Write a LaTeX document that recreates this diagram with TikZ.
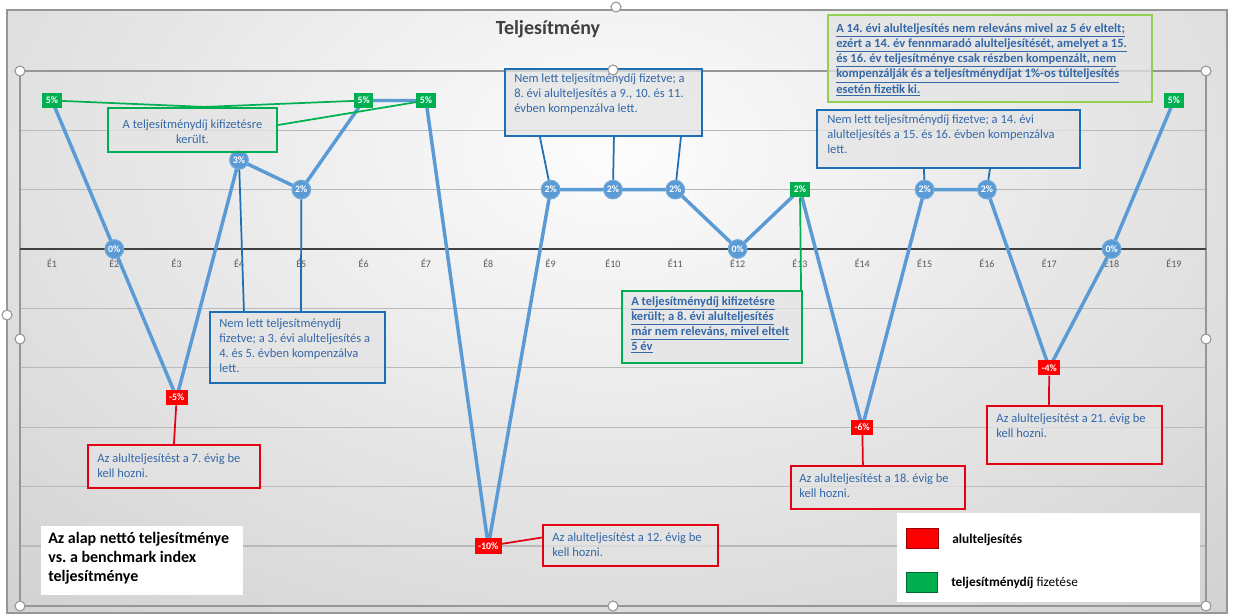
\documentclass[tikz,border=0pt]{standalone}
\usepackage{fontspec}
\setmainfont{Carlito}
\frenchspacing
\usetikzlibrary{fit,calc}
\definecolor{serblue}{RGB}{91,155,213}
\definecolor{boxblue}{RGB}{30,110,180}
\definecolor{txtblue}{RGB}{52,104,168}
\definecolor{mgreen}{RGB}{0,176,80}
\definecolor{lgreen}{RGB}{146,208,80}
\definecolor{mred}{RGB}{255,0,0}
\definecolor{bred}{RGB}{228,0,20}
\definecolor{cfill}{RGB}{228,228,228}
\definecolor{gridc}{RGB}{185,185,185}
\definecolor{axisc}{RGB}{64,64,64}
\definecolor{labc}{RGB}{89,89,89}
\definecolor{framec}{RGB}{150,150,150}
\newcommand{\ltab}[1]{\begin{tabular}[t]{@{}l@{}}#1\end{tabular}}
\newcommand{\ctab}[1]{\begin{tabular}[t]{@{}c@{}}#1\end{tabular}}
\begin{document}
\begin{tikzpicture}[x=0.75pt,y=-0.75pt,
  cbox/.style={inner sep=0pt, fill=cfill, fill opacity=0.75, line width=1.6pt},
  ctext/.style={anchor=base west, inner sep=0pt, text=txtblue, font=\fontsize{9.4}{11.3}\selectfont},
  btext/.style={ctext, font=\fontsize{9.4}{11.3}\selectfont\bfseries},
  circm/.style={circle, fill=serblue, draw=serblue!85!white, line width=0.8pt, inner sep=0pt, minimum size=14pt, text=white, font=\fontsize{7.4}{7.4}\selectfont\bfseries},
  sqm/.style={rectangle, inner xsep=2.6pt, inner ysep=0pt, minimum height=11.5pt, minimum width=14pt, text=white, font=\fontsize{7.4}{7.4}\selectfont\bfseries},
  sqg/.style={sqm, fill=mgreen},
  sqr/.style={sqm, fill=mred},
  series/.style={serblue, line width=2.6pt, line join=round},
  gline/.style={mgreen, line width=1.3pt},
  bline/.style={boxblue, line width=1.3pt},
  rline/.style={bred, line width=1.3pt},
  catl/.style={text=labc, font=\fontsize{7.5}{8}\selectfont, inner sep=0pt},
  handle/.style={circle, fill=white, draw=framec, line width=0.8pt, minimum size=7.5pt, inner sep=0pt},
  gridl/.style={gridc, line width=0.8pt}
]
\useasboundingbox (0,0) rectangle (1233,614);
% chart background
\begin{scope}
\clip (7,10) rectangle (1227,613);
\shade[inner color=gray!2, outer color=gray!46] (-600,-650) rectangle (1830,950);
\end{scope}
\draw[framec, line width=0.8pt] (7,10) rectangle (1227,613);
% gridlines
\foreach \v in {4,2,-2,-4,-6,-8,-10}
  \draw[gridl] (20,{249-29.7*\v}) -- (1206,{249-29.7*\v});
\draw[framec, line width=0.8pt] (20,71) rectangle (1206,606);
\draw[axisc, line width=1.8pt] (20,249) -- (1206,249);
% category labels
\foreach \i in {1,...,19}
  \node[catl] (l\i) at ({52+(\i-1)*62.33},263) {É\i};
% title
\node[anchor=base, inner sep=0pt, text=axisc, font=\fontsize{15}{18}\selectfont\bfseries] (title) at (548,34) {Teljesítmény};
% data points
\foreach \v [count=\i] in {5,0,-5,3,2,5,5,-10,2,2,2,0,2,-6,2,2,-4,0,5}
  \coordinate (p\i) at ({52+(\i-1)*62.33},{249-29.7*\v});
\draw[series] (p1) \foreach \i in {2,...,19} { -- (p\i) };
% markers
\node[sqg]   (m1)  at (p1)  {5\%};
\node[circm] (m2)  at (p2)  {0\%};
\node[sqr]   (m3)  at (p3)  {-5\%};
\node[circm] (m4)  at (p4)  {3\%};
\node[circm] (m5)  at (p5)  {2\%};
\node[sqg]   (m6)  at (p6)  {5\%};
\node[sqg]   (m7)  at (p7)  {5\%};
\node[sqr]   (m8)  at (p8)  {-10\%};
\node[circm] (m9)  at (p9)  {2\%};
\node[circm] (m10) at (p10) {2\%};
\node[circm] (m11) at (p11) {2\%};
\node[circm] (m12) at (p12) {0\%};
\node[sqg]   (m13) at (p13) {2\%};
\node[sqr]   (m14) at (p14) {-6\%};
\node[circm] (m15) at (p15) {2\%};
\node[circm] (m16) at (p16) {2\%};
\node[sqr]   (m17) at (p17) {-4\%};
\node[circm] (m18) at (p18) {0\%};
\node[sqg]   (m19) at (p19) {5\%};
% callout boxes
\node[cbox, draw=mgreen,  fit={(108,108) (277,152)}] (c1) {};
\node[cbox, draw=boxblue, fit={(505,69) (702,136)}]  (c2) {};
\node[cbox, draw=boxblue, fit={(817,110) (1080,168)}] (c3) {};
\node[cbox, draw=lgreen,  fit={(828,15) (1152,102)}] (c4) {};
\node[cbox, draw=boxblue, fit={(210,312) (385,383)}] (c5) {};
\node[cbox, draw=bred,    fit={(88,445) (260,488)}]  (c6) {};
\node[fill=white, inner sep=0pt, fit={(41,526) (243,595)}] (c7) {};
\node[cbox, draw=mgreen,  fit={(622,291) (802,363)}] (c8) {};
\node[cbox, draw=bred,    fit={(543,525) (718,566)}] (c9) {};
\node[cbox, draw=bred,    fit={(791,466) (965,509)}] (c10) {};
\node[cbox, draw=bred,    fit={(987,406) (1162,464)}] (c11) {};
% connectors
\draw[gline] (m1) -- ([shift={(12,0)}]c1.north) -- (m6);
\draw[gline] ([shift={(0,-5)}]c1.east) -- (m7);
\draw[bline] ([shift={(36,0)}]c2.south west) -- (m9);
\draw[bline] ([shift={(110,0)}]c2.south west) -- (m10);
\draw[bline] ([shift={(177,0)}]c2.south west) -- (m11);
\draw[bline] ([shift={(108,0)}]c3.south west) -- (m15);
\draw[bline] ([shift={(174,0)}]c3.south west) -- (m16);
\draw[bline] ([shift={(35,0)}]c5.north west) -- (m4);
\draw[bline] ([shift={(92,0)}]c5.north west) -- (m5);
\draw[rline] ([shift={(87,0)}]c6.north west) -- (m3);
\draw[gline] ([shift={(-2,0)}]c8.north east) -- (m13);
\draw[rline] ([shift={(0,-8)}]c9.west) -- (m8);
\draw[rline] ([shift={(73,0)}]c10.north west) -- (m14);
\draw[rline] ([shift={(63,0)}]c11.north west) -- (m17);
% texts
\node[ctext, anchor=base] (t1) at (192.5,128) {\ctab{A teljesítménydíj kifizetésre\\került.}};
\node[ctext] (t2) at (514,82) {\ltab{Nem lett teljesítménydíj fizetve; a\\8. évi alulteljesítés a 9., 10. és 11.\\évben kompenzálva lett.}};
\node[ctext] (t3) at (827,123) {\ltab{Nem lett teljesítménydíj fizetve; a 14. évi\\alulteljesítés a 15. és 16. évben kompenzálva\\lett.}};
\node[btext] (t4) at (836,32) {\ltab{\underline{A 14. évi alulteljesítés nem releváns mivel az 5 év eltelt;}\\\underline{ezért a 14. év fennmaradó alulteljesítését, amelyet a 15.}\\\underline{és 16. év teljesítménye csak részben kompenzált, nem}\\\underline{kompenzálják és a teljesítménydíjat 1\%-os túlteljesítés}\\\underline{esetén fizetik ki.}}};
\node[ctext] (t5) at (219,327) {\ltab{Nem lett teljesítménydíj\\fizetve; a 3. évi alulteljesítés a\\4. és 5. évben kompenzálva\\lett.}};
\node[ctext] (t6) at (97,462) {\ltab{Az alulteljesítést a 7. évig be\\kell hozni.}};
\node[ctext, text=black, font=\fontsize{12}{14.6}\selectfont\bfseries] (t7) at (48,543) {\ltab{Az alap nettó teljesítménye\\vs. a benchmark index\\teljesítménye}};
\node[btext] (t8) at (631,305) {\ltab{\underline{A teljesítménydíj kifizetésre}\\\underline{került; a 8. évi alulteljesítés}\\\underline{már nem releváns, mivel eltelt}\\\underline{5 év}}};
\node[ctext] (t9) at (552,541) {\ltab{Az alulteljesítést a 12. évig be\\kell hozni.}};
\node[ctext] (t10) at (799,482) {\ltab{Az alulteljesítést a 18. évig be\\kell hozni.}};
\node[ctext] (t11) at (996,422) {\ltab{Az alulteljesítést a 21. évig be\\kell hozni.}};
% legend
\node[fill=white, inner sep=0pt, fit={(897,513) (1200,602)}] (lg) {};
\node[fill=mred, draw=red!60!black, line width=0.4pt, minimum width=24pt, minimum height=15pt, inner sep=0pt] (lgr) at (922,538) {};
\node[fill=mgreen, draw=mgreen!60!black, line width=0.4pt, minimum width=23.5pt, minimum height=15pt, inner sep=0pt] (lgg) at (921.5,582) {};
\node[anchor=base west, inner sep=0pt, font=\fontsize{10}{12}\selectfont] (lgt1) at (952,543) {\textbf{alulteljesítés}};
\node[anchor=base west, inner sep=0pt, font=\fontsize{10}{12}\selectfont] (lgt2) at (951,586) {\textbf{teljesítménydíj} fizetése};
% selection handles
\foreach \hx/\hy [count=\k] in {20/71, 613/70, 1206/71, 20/339, 1206/339, 20/606, 613/606, 1206/606, 616/7, 7/315}
  \node[handle] (h\k) at (\hx,\hy) {};
\end{tikzpicture}
\end{document}
